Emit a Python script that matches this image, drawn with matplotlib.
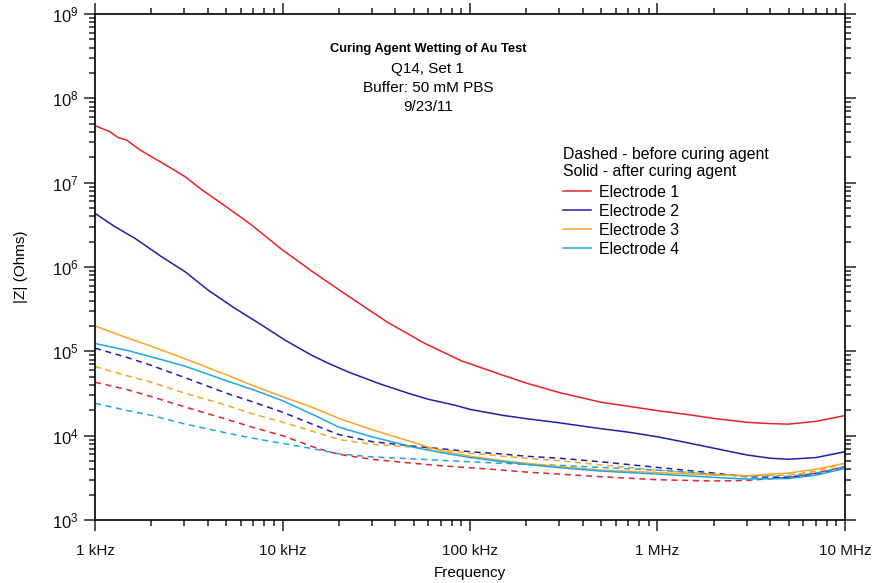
import numpy as np
import matplotlib
matplotlib.use("Agg")
import matplotlib.pyplot as plt
from matplotlib.ticker import FixedLocator, LogLocator, FuncFormatter, NullFormatter
from matplotlib.lines import Line2D

plt.rcParams['font.family'] = ['Liberation Sans', 'DejaVu Sans']
plt.rcParams['mathtext.default'] = 'regular'

# ---- data ----
f_e1a = [1e3, 1.2e3, 1.33e3, 1.475e3, 1.74e3, 2.27e3, 3.02e3, 3.7e3, 4.94e3, 6.84e3, 9.9e3,
         1.49e4, 2.34e4, 3.66e4, 5.75e4, 9.02e4, 1.5e5, 2e5, 3e5, 5e5, 7e5, 1e6, 1.5e6,
         2e6, 3e6, 4e6, 5e6, 7e6, 1e7]
z_e1a = [4.74e7, 4.03e7, 3.42e7, 3.2e7, 2.44e7, 1.73e7, 1.18e7, 8.3e6, 5.3e6, 3.15e6, 1.62e6,
         8.4e5, 4.25e5, 2.19e5, 1.24e5, 7.7e4, 5.2e4, 4.2e4, 3.24e4, 2.49e4, 2.23e4, 1.98e4, 1.76e4,
         1.6e4, 1.44e4, 1.39e4, 1.37e4, 1.48e4, 1.73e4]

f_e2a = [1e3, 1.278e3, 1.633e3, 2.27e3, 3.02e3, 4.02e3, 5.57e3, 7.75e3, 1.03e4, 1.43e4, 1.76e4,
         2.24e4, 3.25e4, 4.69e4, 6e4, 8.3e4, 1e5, 1.5e5, 2e5, 3e5, 5e5, 7e5, 1e6, 1.5e6, 2e6,
         3e6, 4e6, 5e6, 7e6, 1e7]
z_e2a = [4.33e6, 3.0e6, 2.19e6, 1.32e6, 8.8e5, 5.3e5, 3.24e5, 2.05e5, 1.36e5, 9.0e4, 7.2e4,
         5.7e4, 4.17e4, 3.18e4, 2.7e4, 2.3e4, 2.05e4, 1.74e4, 1.59e4, 1.42e4, 1.21e4, 1.1e4, 9.7e3,
         8.1e3, 7.1e3, 5.9e3, 5.4e3, 5.25e3, 5.5e3, 6.45e3]

freq = [1e3, 1.5e3, 2e3, 3e3, 5e3, 7e3, 1e4, 1.5e4, 2e4, 3e4, 5e4, 7e4, 1e5, 1.5e5, 2e5,
        3e5, 5e5, 1e6, 2e6, 3e6, 5e6, 7e6, 1e7]
z_e3a = [2.0e5, 1.43e5, 1.15e5, 8.2e4, 5.3e4, 3.9e4, 2.9e4, 2.1e4, 1.6e4, 1.18e4, 8.3e3,
         6.6e3, 5.7e3, 5.05e3, 4.7e3, 4.3e3, 3.9e3, 3.65e3, 3.4e3, 3.35e3, 3.6e3, 4.0e3, 4.7e3]
z_e4a = [1.24e5, 1.02e5, 8.6e4, 6.7e4, 4.5e4, 3.5e4, 2.6e4, 1.72e4, 1.26e4, 9.7e3, 7.3e3,
         6.3e3, 5.5e3, 4.9e3, 4.57e3, 4.17e3, 3.8e3, 3.5e3, 3.2e3, 3.06e3, 3.1e3, 3.4e3, 4.1e3]

z_e1b = [4.3e4, 3.5e4, 2.9e4, 2.2e4, 1.57e4, 1.25e4, 1.0e4, 7.2e3, 6.0e3, 5.25e3, 4.7e3,
         4.4e3, 4.17e3, 3.9e3, 3.7e3, 3.5e3, 3.26e3, 3.0e3, 2.9e3, 2.95e3, 3.2e3, 3.6e3, 4.3e3]
z_e2b = [1.09e5, 8.4e4, 6.8e4, 4.9e4, 3.2e4, 2.5e4, 1.9e4, 1.32e4, 1.03e4, 8.5e3, 7.5e3,
         7.0e3, 6.45e3, 6.05e3, 5.7e3, 5.4e3, 4.9e3, 4.2e3, 3.6e3, 3.25e3, 3.2e3, 3.5e3, 4.1e3]
z_e3b = [6.6e4, 5.1e4, 4.3e4, 3.2e4, 2.3e4, 1.8e4, 1.45e4, 1.1e4, 9.0e3, 7.9e3, 7.3e3,
         6.8e3, 6.2e3, 5.7e3, 5.4e3, 5.05e3, 4.5e3, 3.9e3, 3.5e3, 3.35e3, 3.4e3, 3.8e3, 4.7e3]
z_e4b = [2.42e4, 1.98e4, 1.74e4, 1.38e4, 1.08e4, 9.3e3, 8.1e3, 6.9e3, 6.1e3, 5.6e3, 5.3e3,
         5.1e3, 4.9e3, 4.7e3, 4.57e3, 4.45e3, 4.2e3, 3.9e3, 3.5e3, 3.3e3, 3.3e3, 3.6e3, 4.3e3]

x_ticks = [1e3, 1e4, 1e5, 1e6, 1e7]
x_ticklabels = ["1 kHz", "10 kHz", "100 kHz", "1 MHz", "10 MHz"]
y_ticks = [1e3, 1e4, 1e5, 1e6, 1e7, 1e8, 1e9]

labels = ["Electrode 1", "Electrode 2", "Electrode 3", "Electrode 4"]
colors = ["#e4242a", "#1f1fa8", "#f5a623", "#1ea7e4"]

title_main = "Curing Agent Wetting of Au Test"
title_lines = ["Q14, Set 1", "Buffer: 50 mM PBS", "9/23/11"]

# ---- figure ----
fig = plt.figure(figsize=(8.76, 5.83), dpi=100)
ax = fig.add_axes([95/876, 1-520/583, 750/876, 506/583])

lw = 1.1
before = [z_e1b, z_e2b, z_e3b, z_e4b]
for yb, c in zip(before, colors):
    ln, = ax.plot(freq, yb, color=c, lw=lw)
    ln.set_dashes([4, 3])
after = [(f_e1a, z_e1a), (f_e2a, z_e2a), (freq, z_e3a), (freq, z_e4a)]
for (fx, ya), c in zip(after, colors):
    ax.plot(fx, ya, color=c, lw=lw)

ax.set_xscale('log')
ax.set_yscale('log')
ax.set_xlim(1e3, 1e7)
ax.set_ylim(1e3, 1e9)

ax.xaxis.set_major_locator(FixedLocator(x_ticks))
ax.xaxis.set_major_formatter(FuncFormatter(lambda v, p: x_ticklabels[x_ticks.index(v)] if v in x_ticks else ""))
ax.xaxis.set_minor_locator(LogLocator(base=10, subs=np.arange(2, 10), numticks=20))
ax.xaxis.set_minor_formatter(NullFormatter())
ax.yaxis.set_major_locator(FixedLocator(y_ticks))
ax.yaxis.set_major_formatter(FuncFormatter(lambda v, p: r"$10^{%d}$" % round(np.log10(v))))
ax.yaxis.set_minor_locator(LogLocator(base=10, subs=np.arange(2, 10), numticks=20))
ax.yaxis.set_minor_formatter(NullFormatter())

for s in ax.spines.values():
    s.set_linewidth(1.2)
ax.tick_params(which='both', direction='out', top=True, right=True, width=1.1, colors='#222222')
ax.tick_params(which='major', length=8, labelcolor='#111111')
ax.tick_params(axis='x', which='major', pad=9, labelsize=11)
ax.tick_params(axis='y', which='major', pad=4, labelsize=12)
ax.tick_params(which='minor', length=4)

ax.set_xlabel("Frequency", fontsize=11, labelpad=6)
ax.set_ylabel("|Z| (Ohms)", fontsize=11, labelpad=17)

# title block
ax.text(0.4437, 0.930, title_main, transform=ax.transAxes,
        ha='center', va='center', fontsize=9.3, fontweight='bold')
for i, t in enumerate(title_lines):
    ax.text(0.4437, 0.892 - i*0.0382, t, transform=ax.transAxes,
            ha='center', va='center', fontsize=11)

handles = [Line2D([], [], color=c, lw=lw) for c in colors]
leg = ax.legend(handles, labels, title="Dashed - before curing agent\nSolid - after curing agent",
                loc='upper left', bbox_to_anchor=(563/876, 1-147/583), bbox_transform=fig.transFigure,
                frameon=False, fontsize=11.4, title_fontsize=11.4, handlelength=1.75,
                handletextpad=0.5, labelspacing=0.25, borderpad=0, borderaxespad=0,
                alignment='left')
leg._legend_box.sep = 4

fig.savefig("out.png", dpi=100)
